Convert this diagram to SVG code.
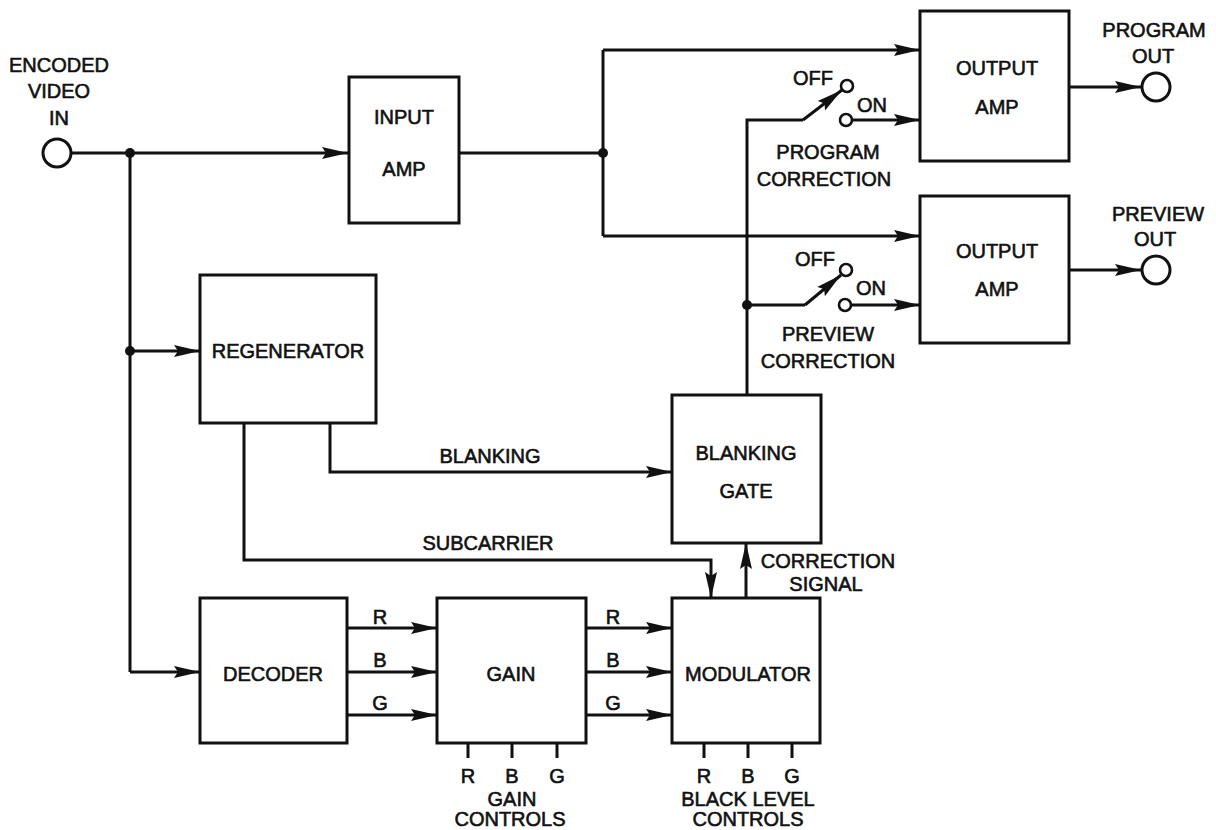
<svg xmlns="http://www.w3.org/2000/svg" width="1216" height="830" viewBox="0 0 1216 830">
<defs>
<marker id="ah" markerUnits="userSpaceOnUse" markerWidth="28" markerHeight="14" refX="26" refY="7" orient="auto">
<path d="M0,1 L26,7 L0,13 L4,7 z" fill="#111"/>
</marker>
<style>
.box{fill:#fff;stroke:#111;stroke-width:3}
.ln{fill:none;stroke:#111;stroke-width:3}
.ar{fill:none;stroke:#111;stroke-width:3;marker-end:url(#ah)}
.term{fill:#fff;stroke:#111;stroke-width:3}
.ct{fill:#fff;stroke:#111;stroke-width:2.6}
.dot{fill:#111}
text{font-family:"Liberation Sans",Arial,sans-serif;font-size:20px;fill:#111;stroke:#111;stroke-width:0.6;text-anchor:middle}
</style>
</defs>
<rect width="1216" height="830" fill="#fff"/>

<g id="connectors">
<path class="ar" d="M72,153 H348"/>
<path class="ln" d="M130,153 V672"/>
<path class="ar" d="M130,351 H200"/>
<path class="ar" d="M130,672 H200"/>
<path class="ln" d="M459,153 H603"/>
<path class="ln" d="M603,50 V236"/>
<path class="ar" d="M603,50 H920"/>
<path class="ar" d="M603,236 H920"/>
<path class="ar" d="M1069,87 H1141"/>
<path class="ar" d="M1069,270 H1141"/>
<path class="ln" d="M747,395 V120 H803"/>
<path class="ar" d="M803,120 L842,90"/>
<path class="ar" d="M852,120 H920"/>
<path class="ln" d="M747,305 H805"/>
<path class="ar" d="M805,305 L841,275"/>
<path class="ar" d="M851,305 H920"/>
<path class="ar" d="M330,423 V472 H672"/>
<path class="ar" d="M244,423 V560 H711 V598"/>
<path class="ar" d="M746,598 V543"/>
<path class="ar" d="M347,628 H437"/>
<path class="ar" d="M347,672 H437"/>
<path class="ar" d="M347,715 H437"/>
<path class="ar" d="M586,628 H672"/>
<path class="ar" d="M586,672 H672"/>
<path class="ar" d="M586,715 H672"/>
<path class="ln" d="M468,743 V758 M512,743 V758 M557,743 V758"/>
<path class="ln" d="M704,743 V758 M748,743 V758 M792,743 V758"/>
<circle class="dot" cx="130" cy="153" r="5"/>
<circle class="dot" cx="130" cy="351" r="5"/>
<circle class="dot" cx="603" cy="153" r="5"/>
<circle class="dot" cx="747" cy="305" r="5"/>
<circle class="ct" cx="847" cy="86" r="6"/>
<circle class="ct" cx="846" cy="120" r="6"/>
<circle class="ct" cx="846" cy="270" r="6"/>
<circle class="ct" cx="845" cy="305" r="6"/>
</g>

<g id="input-terminal">
<circle class="term" cx="57" cy="153" r="14"/>
<text x="59" y="72">ENCODED</text>
<text x="59" y="98">VIDEO</text>
<text x="59" y="125">IN</text>
</g>

<g id="input-amp">
<rect class="box" x="349" y="77" width="110" height="146"/>
<text x="404" y="124">INPUT</text>
<text x="404" y="176">AMP</text>
</g>

<g id="output-amp-program">
<rect class="box" x="920" y="11" width="149" height="150"/>
<text x="997" y="75">OUTPUT</text>
<text x="997" y="114">AMP</text>
</g>

<g id="output-amp-preview">
<rect class="box" x="920" y="196" width="149" height="147"/>
<text x="997" y="258">OUTPUT</text>
<text x="997" y="296">AMP</text>
</g>

<g id="program-out">
<circle class="term" cx="1156" cy="87" r="14"/>
<text x="1154" y="37">PROGRAM</text>
<text x="1153" y="63">OUT</text>
</g>

<g id="preview-out">
<circle class="term" cx="1156" cy="270" r="14"/>
<text x="1158" y="221">PREVIEW</text>
<text x="1155" y="246">OUT</text>
</g>

<g id="program-correction">
<text x="813" y="85">OFF</text>
<text x="872" y="112">ON</text>
<text x="828" y="159">PROGRAM</text>
<text x="824" y="186">CORRECTION</text>
</g>

<g id="preview-correction">
<text x="815" y="266">OFF</text>
<text x="871" y="295">ON</text>
<text x="828" y="341">PREVIEW</text>
<text x="828" y="368">CORRECTION</text>
</g>

<g id="regenerator">
<rect class="box" x="200" y="275" width="176" height="148"/>
<text x="288" y="358">REGENERATOR</text>
</g>

<g id="blanking-gate">
<rect class="box" x="672" y="395" width="149" height="148"/>
<text x="746" y="460">BLANKING</text>
<text x="746" y="498">GATE</text>
</g>

<g id="decoder">
<rect class="box" x="200" y="598" width="147" height="145"/>
<text x="273" y="681">DECODER</text>
</g>

<g id="gain">
<rect class="box" x="437" y="598" width="149" height="145"/>
<text x="511" y="681">GAIN</text>
</g>

<g id="modulator">
<rect class="box" x="672" y="598" width="148" height="145"/>
<text x="748" y="681">MODULATOR</text>
</g>

<g id="labels">
<text x="490" y="463">BLANKING</text>
<text x="488" y="550">SUBCARRIER</text>
<text x="828" y="568">CORRECTION</text>
<text x="826" y="591">SIGNAL</text>
<text x="380" y="624">R</text>
<text x="380" y="667">B</text>
<text x="380" y="710">G</text>
<text x="613" y="624">R</text>
<text x="613" y="667">B</text>
<text x="613" y="710">G</text>
<text x="468" y="783">R</text>
<text x="512" y="783">B</text>
<text x="557" y="783">G</text>
<text x="512" y="806">GAIN</text>
<text x="510" y="826">CONTROLS</text>
<text x="704" y="783">R</text>
<text x="748" y="783">B</text>
<text x="792" y="783">G</text>
<text x="748" y="806">BLACK LEVEL</text>
<text x="748" y="826">CONTROLS</text>
</g>
</svg>
